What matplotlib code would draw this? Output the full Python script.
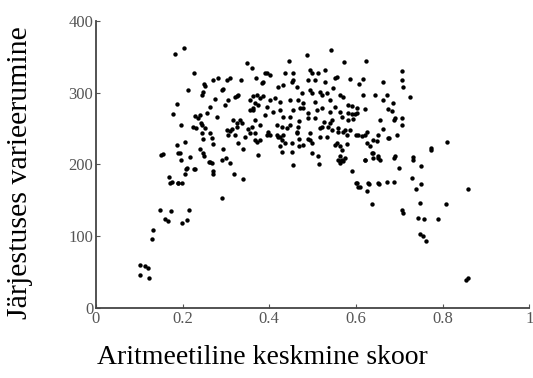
import matplotlib.pyplot as plt

# low-left tail
score_a = [0.102, 0.113, 0.120, 0.102, 0.122, 0.132, 0.129, 0.148, 0.173, 0.159, 0.166, 0.199, 0.210, 0.215]
spread_a = [60, 58, 56, 46, 42, 109, 96, 137, 135, 124, 121, 118, 123, 137]

# left side, middle height
score_b = [0.150, 0.190, 0.196, 0.169, 0.171, 0.190, 0.199, 0.206, 0.210, 0.229,
           0.217, 0.291, 0.261, 0.270, 0.319, 0.340, 0.291, 0.300, 0.309, 0.374,
           0.155, 0.196, 0.224, 0.231, 0.243, 0.245, 0.263, 0.247, 0.268, 0.270,
           0.187, 0.206, 0.194, 0.240, 0.247, 0.249, 0.268, 0.263, 0.293, 0.208,
           0.226, 0.270, 0.176, 0.189, 0.303, 0.314, 0.326, 0.337, 0.344, 0.356,
           0.367, 0.379, 0.395, 0.379, 0.372, 0.328, 0.339, 0.321, 0.305]
spread_b = [213, 216, 206, 183, 174, 174, 174, 186, 195, 194,
            210, 153, 203, 187, 187, 180, 206, 209, 202, 213,
            215, 255, 252, 251, 258, 244, 244, 236, 237, 229,
            227, 231, 216, 222, 216, 212, 202, 203, 222, 194,
            194, 191, 176, 174, 248, 249, 252, 258, 238, 244,
            244, 255, 241, 234, 231, 230, 222, 241, 241]

# upper left
score_c = [0.182, 0.203, 0.226, 0.212, 0.187, 0.178, 0.245, 0.252, 0.270, 0.282,
           0.303, 0.309, 0.335, 0.349, 0.360, 0.293, 0.275, 0.305, 0.321, 0.328,
           0.240, 0.256, 0.263, 0.279, 0.229, 0.236, 0.245, 0.252, 0.316, 0.326,
           0.333, 0.351, 0.360, 0.367, 0.309, 0.367, 0.363, 0.367, 0.374, 0.363]
spread_c = [354, 362, 327, 304, 284, 270, 297, 309, 318, 321,
            318, 320, 318, 341, 334, 305, 291, 290, 294, 297,
            269, 272, 280, 266, 268, 265, 255, 251, 262, 258,
            262, 249, 252, 234, 247, 262, 276, 286, 283, 295]

score_d = [0.383, 0.370, 0.395, 0.249, 0.247, 0.291, 0.326, 0.298, 0.356, 0.379, 0.386]
spread_d = [314, 321, 328, 312, 301, 304, 295, 283, 276, 293, 295]

# dense centre
score_e = [0.487, 0.543, 0.446, 0.573, 0.624, 0.707, 0.707, 0.709, 0.663, 0.725,
           0.672, 0.663, 0.390, 0.402, 0.436, 0.455, 0.494, 0.499, 0.513, 0.529,
           0.386, 0.453, 0.455, 0.490, 0.506, 0.529, 0.552, 0.557, 0.587, 0.617,
           0.607, 0.547, 0.420, 0.432, 0.464, 0.494, 0.499, 0.517, 0.522, 0.564,
           0.570, 0.617, 0.644, 0.356, 0.372, 0.402, 0.413, 0.425, 0.448, 0.467,
           0.478, 0.506, 0.540, 0.552, 0.582, 0.591, 0.603, 0.621, 0.674, 0.684,
           0.686, 0.363, 0.395, 0.409, 0.425, 0.455, 0.471, 0.478, 0.490, 0.510,
           0.522, 0.540, 0.564, 0.582, 0.591, 0.598, 0.603, 0.390, 0.432, 0.448,
           0.490, 0.506, 0.526, 0.540, 0.568, 0.582, 0.656, 0.691, 0.707, 0.707,
           0.397, 0.418, 0.430, 0.441, 0.448, 0.467, 0.464, 0.494, 0.517, 0.522,
           0.559, 0.517, 0.533, 0.559, 0.570, 0.580, 0.587, 0.605, 0.621, 0.651,
           0.663, 0.674, 0.695, 0.402, 0.420, 0.432, 0.430, 0.453, 0.478, 0.494,
           0.499, 0.557, 0.564, 0.580, 0.626, 0.633, 0.425, 0.430, 0.453, 0.499,
           0.637, 0.691, 0.732, 0.564, 0.575, 0.651]
spread_e = [353, 360, 344, 343, 344, 330, 318, 308, 315, 294,
            297, 290, 328, 325, 328, 328, 332, 328, 328, 332,
            315, 315, 318, 318, 318, 315, 321, 322, 319, 319,
            312, 307, 308, 311, 308, 304, 300, 301, 297, 297,
            294, 297, 297, 290, 297, 290, 293, 287, 290, 290,
            286, 287, 290, 280, 283, 281, 279, 277, 277, 274,
            286, 279, 280, 273, 276, 276, 279, 279, 272, 276,
            279, 273, 273, 272, 270, 270, 272, 269, 266, 266,
            265, 265, 259, 258, 266, 262, 262, 265, 265, 255,
            245, 255, 252, 251, 255, 252, 244, 244, 251, 252,
            251, 238, 238, 245, 245, 241, 248, 241, 241, 241,
            249, 237, 241, 241, 238, 241, 234, 230, 227, 234,
            230, 230, 226, 229, 230, 226, 226, 217, 217, 216,
            216, 212, 210, 212, 209, 212]

score_f = [0.469, 0.536, 0.545, 0.575, 0.600, 0.614, 0.626, 0.640, 0.649, 0.418,
           0.425, 0.464, 0.490, 0.552, 0.568, 0.436, 0.469, 0.455, 0.515, 0.559,
           0.564, 0.568, 0.621, 0.640, 0.591, 0.603, 0.610, 0.628, 0.626, 0.651,
           0.594, 0.469, 0.512, 0.545, 0.475, 0.533]
spread_f = [261, 252, 248, 248, 241, 240, 245, 234, 233, 241,
            238, 245, 236, 227, 220, 230, 226, 199, 201, 206,
            202, 206, 206, 209, 191, 174, 169, 174, 163, 174,
            263, 235, 212, 262, 300, 300]

# right side falling tail
score_g = [0.564, 0.570, 0.600, 0.605, 0.621, 0.640, 0.651, 0.656, 0.630, 0.654,
           0.672, 0.688, 0.637, 0.688, 0.700, 0.732, 0.751, 0.730, 0.751, 0.739,
           0.748, 0.707, 0.709, 0.744, 0.758, 0.790, 0.808, 0.748, 0.755, 0.762,
           0.774, 0.688, 0.677, 0.774, 0.811, 0.859, 0.855, 0.859]
spread_g = [205, 205, 174, 169, 206, 216, 209, 206, 173, 173,
            176, 176, 145, 209, 195, 206, 198, 181, 173, 166,
            146, 137, 132, 125, 124, 124, 145, 103, 100, 93,
            220, 262, 237, 223, 231, 166, 39, 42]

score = score_a + score_b + score_c + score_d + score_e + score_f + score_g
spread = spread_a + spread_b + spread_c + spread_d + spread_e + spread_f + spread_g

x_ticks = [0, 0.2, 0.4, 0.6, 0.8, 1]
x_labels = ["0", "0.2", "0.4", "0.6", "0.8", "1"]
y_ticks = [0, 100, 200, 300, 400]

plt.rcParams["font.family"] = "Liberation Serif"

fig = plt.figure(figsize=(5.33, 3.78), dpi=100)
ax = fig.add_axes([0.180, 0.185, 0.813, 0.760])
ax.scatter(score, spread, s=10, c="black", linewidths=0)

ax.set_xlim(0, 1)
ax.set_ylim(0, 400)
ax.set_xticks(x_ticks)
ax.set_xticklabels(x_labels)
ax.set_yticks(y_ticks)
ax.spines["top"].set_visible(False)
ax.spines["right"].set_visible(False)
for side in ["left", "bottom"]:
    ax.spines[side].set_color("#444444")
    ax.spines[side].set_linewidth(1.3)
ax.tick_params(direction="in", length=3, colors="#555555", labelsize=12, pad=2)

ax.set_xlabel("Aritmeetiline keskmine skoor", fontsize=20)
ax.xaxis.set_label_coords(0.383, -0.13)
ax.set_ylabel("Järjestuses varieerumine", fontsize=21.5)
ax.yaxis.set_label_coords(-0.145, 0.47)

fig.savefig("out.png", dpi=100)
